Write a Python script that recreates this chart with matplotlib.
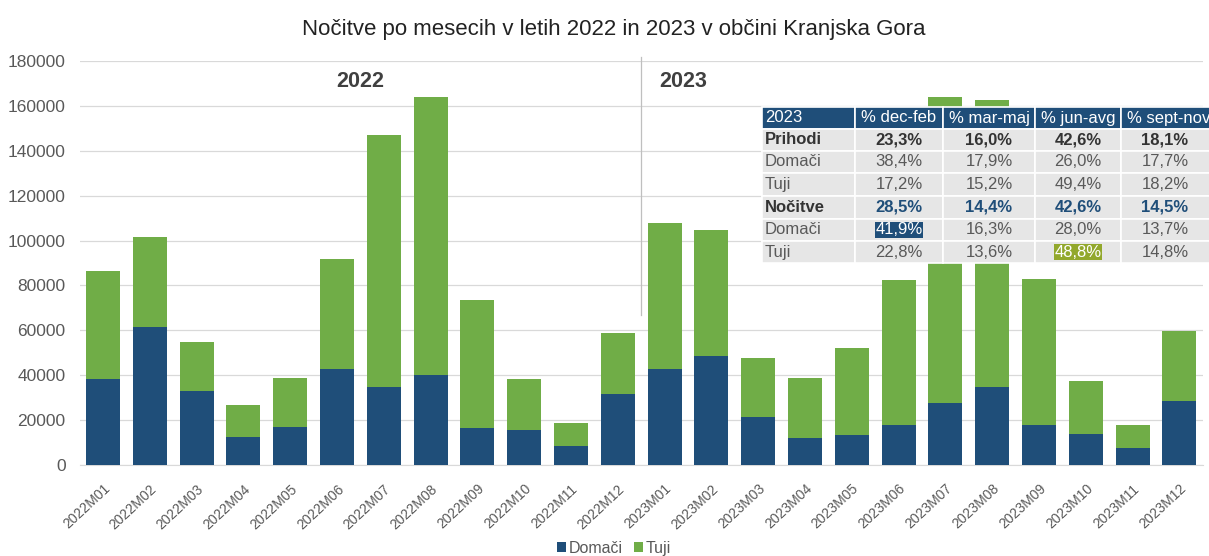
import matplotlib
matplotlib.use("Agg")
import matplotlib.pyplot as plt
from matplotlib.patches import Rectangle
import matplotlib.transforms as mtransforms
import numpy as np

plt.rcParams['font.family'] = ['Liberation Sans', 'DejaVu Sans']

months = ["2022M01", "2022M02", "2022M03", "2022M04", "2022M05", "2022M06",
          "2022M07", "2022M08", "2022M09", "2022M10", "2022M11", "2022M12",
          "2023M01", "2023M02", "2023M03", "2023M04", "2023M05", "2023M06",
          "2023M07", "2023M08", "2023M09", "2023M10", "2023M11", "2023M12"]
domaci = [38300, 61500, 33000, 12500, 16900, 42800, 34700, 40100, 16500, 15600, 8500, 31600,
          42800, 48600, 21400, 12000, 13400, 17800, 27600, 34700, 17800, 13800, 7600, 28500]
totals = [86400, 101600, 54800, 26700, 38800, 91800, 147000, 163900, 73500, 38300, 18700, 58800,
          107800, 104700, 47700, 38800, 52100, 82400, 163900, 162600, 82800, 37400, 17800, 59700]
tuji = [t - d for t, d in zip(totals, domaci)]

title = "Nočitve po mesecih v letih 2022 in 2023 v občini Kranjska Gora"
yticks = [0, 20000, 40000, 60000, 80000, 100000, 120000, 140000, 160000, 180000]

tbl_header = ["2023", "% dec-feb", "% mar-maj", "% jun-avg", "% sept-nov"]
tbl_labels = ["Prihodi", "Domači", "Tuji", "Nočitve", "Domači", "Tuji"]
tbl_values = [["23,3%", "16,0%", "42,6%", "18,1%"],
              ["38,4%", "17,9%", "26,0%", "17,7%"],
              ["17,2%", "15,2%", "49,4%", "18,2%"],
              ["28,5%", "14,4%", "42,6%", "14,5%"],
              ["41,9%", "16,3%", "28,0%", "13,7%"],
              ["22,8%", "13,6%", "48,8%", "14,8%"]]

C_DOM = "#1f4e79"
C_TUJ = "#70ad47"
GRAY = "#595959"

W, H = 1209, 556
fig = plt.figure(figsize=(W / 100, H / 100), dpi=100)
ax = fig.add_axes([79.6 / W, 1 - 465 / H, (1202.8 - 79.6) / W, (465 - 61) / H])

x = np.arange(len(months))
ax.bar(x, domaci, width=0.73, color=C_DOM, label="Domači", zorder=3)
ax.bar(x, tuji, width=0.73, bottom=domaci, color=C_TUJ, label="Tuji", zorder=3)

ax.set_xlim(-0.5, len(months) - 0.5)
ax.set_ylim(0, 180000)
ax.set_yticks(yticks)
ax.set_yticklabels([str(v) for v in yticks], fontsize=12.5, color=GRAY)
ax.set_xticks(x)
ax.set_xticklabels(months, rotation=43, ha='right', va='top', rotation_mode='anchor',
                   fontsize=10, color=GRAY)
offset = mtransforms.ScaledTranslation(-0.08, 0, fig.dpi_scale_trans)
for lbl in ax.get_xticklabels():
    lbl.set_transform(lbl.get_transform() + offset)
ax.tick_params(axis='y', length=0, pad=10)
ax.tick_params(axis='x', length=0, pad=12)
ax.grid(axis='y', color="#d9d9d9", linewidth=0.9, zorder=0)
for s in ["top", "right", "left"]:
    ax.spines[s].set_visible(False)
ax.spines["bottom"].set_color("#d9d9d9")

# divider between years
ax.plot([11.5, 11.5], [67000, 182000], color="#bfbfbf", linewidth=0.9, clip_on=False, zorder=2)
ax.text(5.5, 171000, "2022", ha='center', va='center', fontsize=15.5,
        fontweight='bold', color="#404040")
ax.text(12.4, 171000, "2023", ha='center', va='center', fontsize=15.5,
        fontweight='bold', color="#404040")

fig.text(614 / W, 1 - 30 / H, title, ha='center', va='center', fontsize=16, color="#222222")

fig.legend(loc='lower center', bbox_to_anchor=(0.508, -0.025), ncol=2, frameon=False,
           fontsize=11.5, handlelength=0.55, handleheight=0.55, handletextpad=0.2,
           columnspacing=0.7, labelcolor=GRAY)

# overlay table (figure pixel coordinates)
def fx(px):
    return px / W

def fy(py):
    return 1 - py / H

col_edges = [762, 855, 943, 1035, 1121, 1215]
row_edges = [107, 129, 151, 173, 196, 219, 241, 263]
for r in range(len(row_edges) - 1):
    for c in range(len(col_edges) - 1):
        x0, x1 = col_edges[c], col_edges[c + 1]
        y0, y1 = row_edges[r], row_edges[r + 1]
        fc = C_DOM if r == 0 else "#e6e6e6"
        fig.add_artist(Rectangle((fx(x0), fy(y1)), fx(x1 - x0), (y1 - y0) / H,
                                 transform=fig.transFigure, facecolor=fc,
                                 edgecolor="white", linewidth=1.2, zorder=5))

for c, h in enumerate(tbl_header):
    fig.text(fx(col_edges[c] + (3 if c == 0 else 6)), fy((row_edges[0] + row_edges[1]) / 2), h,
             ha='left', va='center', fontsize=12, color="white", zorder=6)

for r, lab in enumerate(tbl_labels):
    yc = fy((row_edges[r + 1] + row_edges[r + 2]) / 2)
    bold = lab in ("Prihodi", "Nočitve")
    fig.text(fx(col_edges[0] + 3), yc, lab, ha='left', va='center', fontsize=12,
             color="#333333" if bold else GRAY, fontweight='bold' if bold else 'normal', zorder=6)
    for c, v in enumerate(tbl_values[r]):
        xc = fx((col_edges[c + 1] + col_edges[c + 2]) / 2) if c < 3 else fx(1165)
        kw = dict(ha='center', va='center', fontsize=12, zorder=6)
        if r == 0:
            kw.update(color="#333333", fontweight='bold')
        elif r == 3:
            kw.update(color=C_DOM, fontweight='bold')
        else:
            kw.update(color=GRAY)
        if r == 4 and c == 0:
            kw.update(color="white", bbox=dict(boxstyle='square,pad=0.05', facecolor=C_DOM, edgecolor='none'))
        if r == 5 and c == 2:
            kw.update(color="white", bbox=dict(boxstyle='square,pad=0.05', facecolor="#92a82c", edgecolor='none'))
        fig.text(xc, yc, v, **kw)

fig.savefig("out.png", dpi=100)
